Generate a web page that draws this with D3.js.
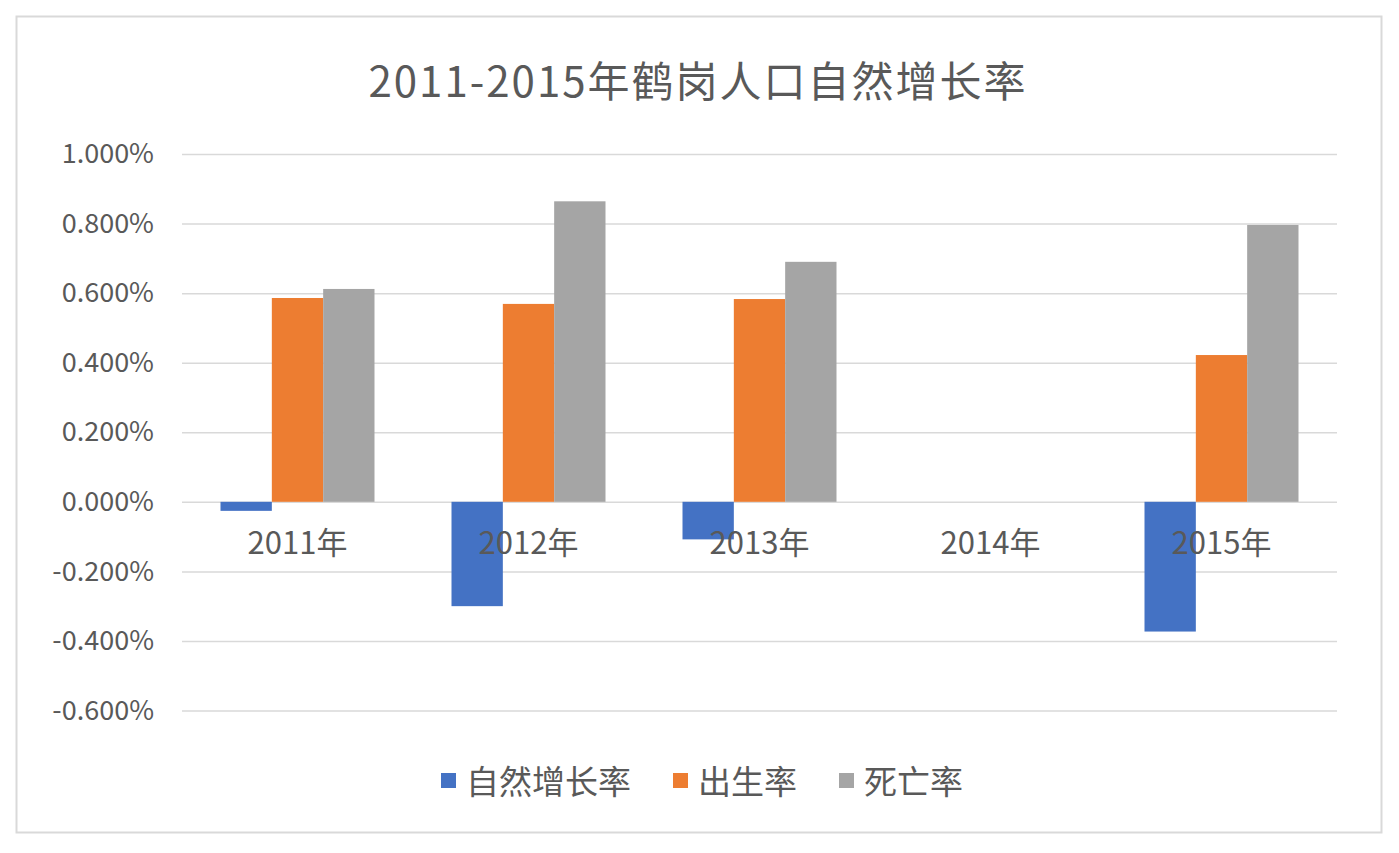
<!DOCTYPE html>
<html>
<head>
<meta charset="utf-8">
<script src="https://cdn.jsdelivr.net/npm/d3@7"></script>
<style>
  body { margin: 0; background: #fff; }
  text { font-family: "Noto Sans CJK SC", "Noto Sans", sans-serif; fill: #595959; }
</style>
</head>
<body>
<svg id="chart"></svg>
<script>
// values in percent (2014 has no data)
let years = ["2011年", "2012年", "2013年", "2014年", "2015年"];
let seriesNames = ["自然增长率", "出生率", "死亡率"];
let naturalRate = [-0.026, -0.300, -0.108, null, -0.373];
let birthRate = [0.586, 0.569, 0.583, null, 0.422];
let deathRate = [0.612, 0.864, 0.690, null, 0.796];
let yTicks = [-0.6, -0.4, -0.2, 0, 0.2, 0.4, 0.6, 0.8, 1.0];
let colors = ["#4472c4", "#ed7d31", "#a5a5a5"];
let titleText = "2011-2015年鹤岗人口自然增长率";

function drawChart() {
    let width = 1399, height = 853;
    let svg = d3.select("#chart").attr("width", width).attr("height", height);

    // outer frame
    svg.append("rect")
        .attr("x", 16.5).attr("y", 16.5)
        .attr("width", 1365).attr("height", 816)
        .attr("fill", "#fff")
        .attr("stroke", "#d9d9d9")
        .attr("stroke-width", 2);

    svg.append("text")
        .attr("x", 698).attr("y", 78)
        .attr("text-anchor", "middle")
        .attr("dominant-baseline", "central")
        .style("font-size", "42px")
        .style("letter-spacing", "2px")
        .text(titleText);

    let x = d3.scaleBand().domain(years).range([182, 1337]);
    let inner = d3.scaleBand().domain(seriesNames).range([0, x.bandwidth()]).paddingOuter(0.75);
    let y = d3.scaleLinear().domain([-0.6, 1.0]).range([710.5, 154]);

    let yAxis = d3.axisLeft(y).tickValues(yTicks).tickSize(-(1337 - 182))
        .tickFormat(d => d.toFixed(3) + "%");
    let gy = svg.append("g").attr("transform", "translate(182,0)").call(yAxis);
    gy.select(".domain").remove();
    gy.selectAll(".tick line").attr("stroke", "#d9d9d9").attr("stroke-width", 1.5);
    gy.selectAll(".tick text")
        .attr("x", -28)
        .attr("fill", "#595959")
        .style("font-size", "27px")
        .style("font-family", "'Noto Sans CJK SC', sans-serif");

    let series = [naturalRate, birthRate, deathRate];
    series.forEach(function (vals, si) {
        let rows = years.map((yr, i) => ({year: yr, value: vals[i]})).filter(d => d.value !== null);
        svg.append("g").selectAll("rect").data(rows)
            .enter().append("rect")
            .attr("x", d => x(d.year) + inner(seriesNames[si]))
            .attr("width", inner.bandwidth())
            .attr("y", d => y(Math.max(0, d.value)))
            .attr("height", d => Math.abs(y(d.value) - y(0)))
            .attr("fill", colors[si]);
    });

    // category labels sit under the zero line, on top of the bars
    svg.append("g").selectAll("text").data(years)
        .enter().append("text")
        .attr("x", d => x(d) + x.bandwidth() / 2)
        .attr("y", y(0) + 52)
        .attr("text-anchor", "middle")
        .style("font-size", "31px")
        .text(d => d);

    // legend
    let legend = svg.append("g");
    let items = legend.selectAll("g").data(seriesNames).enter().append("g");
    items.append("rect")
        .attr("width", 15).attr("height", 15)
        .attr("y", -7)
        .attr("fill", (d, i) => colors[i]);
    items.append("text")
        .attr("x", 25)
        .attr("dominant-baseline", "central")
        .style("font-size", "33px")
        .text(d => d);
    let offset = 0;
    items.each(function () {
        let w = this.getBBox().width;
        d3.select(this).attr("transform", "translate(" + offset + ",0)");
        offset += w + 42;
    });
    let total = offset - 42;
    legend.attr("transform", "translate(" + (702 - total / 2) + ",780)");
}

drawChart();
</script>
</body>
</html>
